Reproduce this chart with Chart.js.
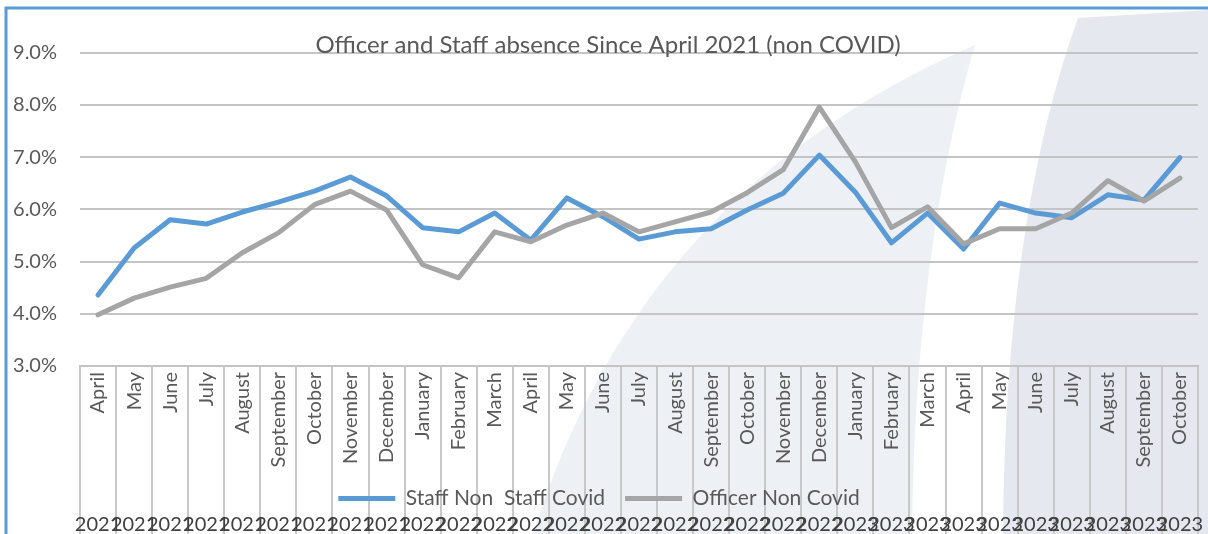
<!DOCTYPE html>
<html>
<head>
<meta charset="utf-8">
<script src="https://cdn.jsdelivr.net/npm/chart.js@4.4.0/dist/chart.umd.min.js"></script>
<style>
  html, body { margin: 0; padding: 0; background: #fff; }
  canvas { display: block; }
</style>
</head>
<body>
<canvas id="grafico-ausencia" width="1208" height="534"></canvas>
<script>
  const meses = ['April', 'May', 'June', 'July', 'August', 'September', 'October', 'November', 'December',
    'January', 'February', 'March', 'April', 'May', 'June', 'July', 'August', 'September', 'October', 'November', 'December',
    'January', 'February', 'March', 'April', 'May', 'June', 'July', 'August', 'September', 'October'];

  const anos = ['2021', '2021', '2021', '2021', '2021', '2021', '2021', '2021', '2021',
    '2022', '2022', '2022', '2022', '2022', '2022', '2022', '2022', '2022', '2022', '2022', '2022',
    '2023', '2023', '2023', '2023', '2023', '2023', '2023', '2023', '2023', '2023'];

  // % de ausencia
  const staffNonCovid = [4.36, 5.26, 5.80, 5.72, 5.95, 6.14, 6.35, 6.62, 6.26,
    5.65, 5.57, 5.93, 5.41, 6.22, 5.86, 5.43, 5.57, 5.63, 5.99, 6.31, 7.04,
    6.33, 5.36, 5.93, 5.24, 6.12, 5.93, 5.84, 6.28, 6.18, 6.99];

  const officerNonCovid = [3.98, 4.30, 4.51, 4.68, 5.17, 5.55, 6.09, 6.35, 5.99,
    4.94, 4.69, 5.57, 5.38, 5.70, 5.93, 5.57, 5.76, 5.95, 6.32, 6.76, 7.96,
    6.91, 5.65, 6.05, 5.34, 5.63, 5.63, 5.93, 6.55, 6.16, 6.60];

  const nomesSeries = ['Staff Non  Staff Covid', 'Officer Non Covid'];
  const titulo = 'Officer and Staff absence Since April 2021 (non COVID)';

  // fundo decorativo e borda azul
  const fundo = {
    id: 'fundo',
    afterLayout(chart) {
      // titulo um pouco deslocado para a direita, como no original
      chart.titleBlock.left = 18;
    },
    beforeDraw(chart) {
      const ctx = chart.ctx;
      const w = chart.width;
      const h = chart.height;
      ctx.save();
      ctx.fillStyle = '#ffffff';
      ctx.fillRect(0, 0, w, h);

      ctx.fillStyle = '#edf1f6';
      ctx.beginPath();
      ctx.moveTo(533, h);
      ctx.quadraticCurveTo(640, 190, 975, 45);
      ctx.quadraticCurveTo(915, 250, 912, h);
      ctx.closePath();
      ctx.fill();

      ctx.fillStyle = '#e5e8ee';
      ctx.beginPath();
      ctx.moveTo(1078, 18);
      ctx.quadraticCurveTo(1005, 220, 1003, h);
      ctx.lineTo(w, h);
      ctx.lineTo(w, 10);
      ctx.closePath();
      ctx.fill();

      ctx.strokeStyle = '#5b9bd5';
      ctx.lineWidth = 3;
      ctx.beginPath();
      ctx.moveTo(6, h);
      ctx.lineTo(6, 8);
      ctx.lineTo(w, 8);
      ctx.stroke();
      ctx.restore();
    }
  };

  Chart.defaults.font.family = 'Lato, "Open Sans", sans-serif';
  Chart.defaults.color = '#595959';

  const ctx = document.getElementById('grafico-ausencia').getContext('2d');
  new Chart(ctx, {
    type: 'line',
    data: {
      labels: meses,
      datasets: [
        {
          label: nomesSeries[0],
          data: staffNonCovid,
          borderColor: '#5b9bd5',
          backgroundColor: '#5b9bd5',
          borderWidth: 5,
          pointRadius: 0,
          borderJoinStyle: 'round',
          borderCapStyle: 'round',
          order: 1
        },
        {
          label: nomesSeries[1],
          data: officerNonCovid,
          borderColor: '#a5a5a5',
          backgroundColor: '#a5a5a5',
          borderWidth: 5,
          pointRadius: 0,
          borderJoinStyle: 'round',
          borderCapStyle: 'round',
          order: 0
        }
      ]
    },
    options: {
      responsive: false,
      animation: false,
      devicePixelRatio: 1,
      layout: {
        padding: { left: 0, right: 10, top: 0, bottom: 0 }
      },
      scales: {
        y: {
          min: 3,
          max: 9,
          ticks: {
            stepSize: 1,
            padding: 23,
            font: { size: 20 },
            callback: (v) => v.toFixed(1) + '%'
          },
          grid: { color: '#c4c4c4', lineWidth: 2, drawTicks: false },
          border: { display: false },
          afterFit: (escala) => { escala.width = 80; }
        },
        x: {
          offset: true,
          weight: 0,
          ticks: {
            autoSkip: false,
            minRotation: 90,
            maxRotation: 90,
            padding: -162,
            font: { size: 20 }
          },
          grid: {
            offset: true,
            drawOnChartArea: false,
            drawTicks: true,
            tickLength: 168,
            color: '#c8c8c8',
            lineWidth: 2
          },
          border: { display: true, color: '#c4c4c4', width: 2 },
          afterFit: (escala) => { escala.height = 102; }
        },
        anos: {
          type: 'category',
          position: 'bottom',
          labels: anos,
          offset: true,
          weight: 2,
          ticks: {
            autoSkip: false,
            minRotation: 0,
            maxRotation: 0,
            padding: -3,
            color: '#404040',
            font: { size: 20 }
          },
          grid: { display: false },
          border: { display: false },
          afterFit: (escala) => { escala.height = 26; }
        }
      },
      plugins: {
        title: {
          display: true,
          text: titulo,
          color: '#595959',
          font: { size: 24, weight: 'normal' },
          padding: { top: 31, bottom: -7 }
        },
        legend: {
          position: 'bottom',
          weight: 1,
          maxHeight: 40,
          labels: {
            usePointStyle: true,
            pointStyle: 'line',
            pointStyleWidth: 57,
            padding: 20,
            color: '#595959',
            font: { size: 21 },
            sort: (a, b) => a.datasetIndex - b.datasetIndex
          }
        },
        tooltip: { enabled: false }
      }
    },
    plugins: [fundo]
  });
</script>
</body>
</html>
